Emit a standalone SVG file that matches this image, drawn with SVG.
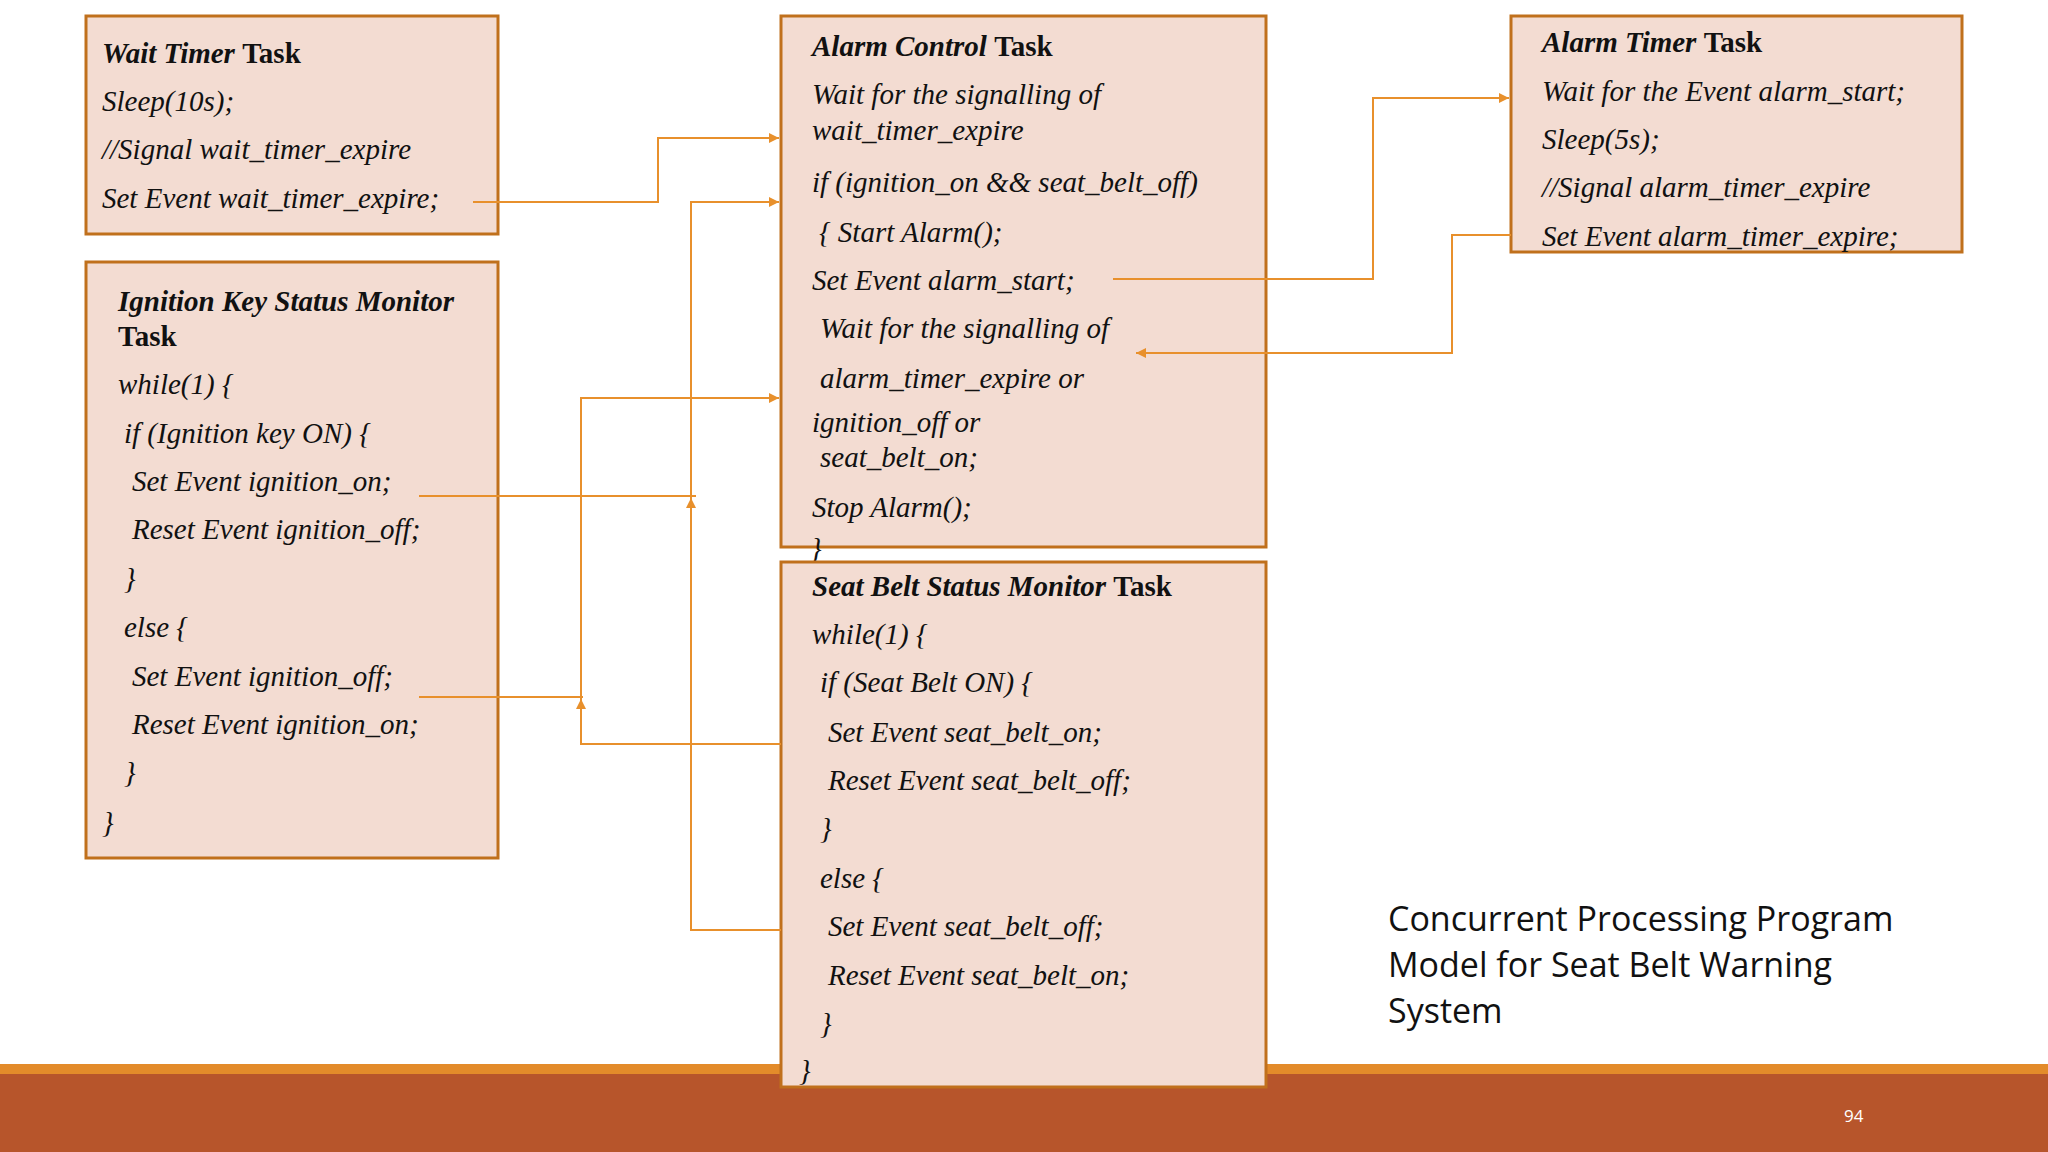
<svg xmlns="http://www.w3.org/2000/svg" width="2048" height="1152" viewBox="0 0 2048 1152">
<defs>
<style>
.box{fill:#F3DCD2;stroke:#C0701C;stroke-width:3}
.t{font-family:"Liberation Serif",serif;font-style:italic;font-size:29px;fill:#111}
.b{font-weight:bold}
.n{font-style:normal}
.c{fill:none;stroke:#E8902C;stroke-width:2}
</style>
<marker id="ah" viewBox="0 0 10 10" refX="10" refY="5" markerWidth="10" markerHeight="10" markerUnits="userSpaceOnUse" orient="auto"><path d="M0,0L10,5L0,10z" fill="#E8902C"/></marker>
</defs>
<rect width="2048" height="1152" fill="#fff"/>
<rect x="0" y="1064" width="2048" height="10" fill="#E38B2A"/>
<rect x="0" y="1074" width="2048" height="78" fill="#B7552B"/>
<text x="1844" y="1122" font-family="Open Sans,sans-serif" font-size="17" fill="#fff">94</text>
<g id="title" font-family="Open Sans,sans-serif" font-size="34" fill="#111">
<text x="1388" y="931">Concurrent Processing Program</text>
<text x="1388" y="977">Model for Seat Belt Warning</text>
<text x="1388" y="1023">System</text>
</g>
<g id="wait-timer">
<rect class="box" x="86" y="16" width="412" height="218"/>
<text class="t" x="102" y="63"><tspan class="b">Wait Timer </tspan><tspan class="b n">Task</tspan></text>
<text class="t" x="102" y="111">Sleep(10s);</text>
<text class="t" x="102" y="159">//Signal wait_timer_expire</text>
<text class="t" x="102" y="208">Set Event wait_timer_expire;</text>
</g>
<g id="ignition">
<rect class="box" x="86" y="262" width="412" height="596"/>
<text class="t b" x="118" y="311">Ignition Key Status Monitor</text>
<text class="t b n" x="118" y="346">Task</text>
<text class="t" x="118" y="394">while(1) {</text>
<text class="t" x="124" y="443">if (Ignition key ON) {</text>
<text class="t" x="132" y="491">Set Event ignition_on;</text>
<text class="t" x="132" y="539">Reset Event ignition_off;</text>
<text class="t" x="124" y="588">}</text>
<text class="t" x="124" y="637">else {</text>
<text class="t" x="132" y="686">Set Event ignition_off;</text>
<text class="t" x="132" y="734">Reset Event ignition_on;</text>
<text class="t" x="124" y="782">}</text>
<text class="t" x="102" y="832">}</text>
</g>
<g id="alarm-control">
<rect class="box" x="781" y="16" width="485" height="531"/>
<text class="t" x="812" y="56"><tspan class="b">Alarm Control </tspan><tspan class="b n">Task</tspan></text>
<text class="t" x="812" y="104">Wait for the signalling of</text>
<text class="t" x="812" y="140">wait_timer_expire</text>
<text class="t" x="812" y="192">if (ignition_on &amp;&amp; seat_belt_off)</text>
<text class="t" x="819" y="242">{ Start Alarm();</text>
<text class="t" x="812" y="290">Set Event alarm_start;</text>
<text class="t" x="820" y="338">Wait for the signalling of</text>
<text class="t" x="820" y="388">alarm_timer_expire or</text>
<text class="t" x="812" y="432">ignition_off or</text>
<text class="t" x="820" y="467">seat_belt_on;</text>
<text class="t" x="812" y="517">Stop Alarm();</text>
<text class="t" x="810" y="558">}</text>
</g>
<g id="seat-belt">
<rect class="box" x="781" y="562" width="485" height="525"/>
<text class="t" x="812" y="596"><tspan class="b">Seat Belt Status Monitor </tspan><tspan class="b n">Task</tspan></text>
<text class="t" x="812" y="644">while(1) {</text>
<text class="t" x="820" y="692">if (Seat Belt ON) {</text>
<text class="t" x="828" y="742">Set Event seat_belt_on;</text>
<text class="t" x="828" y="790">Reset Event seat_belt_off;</text>
<text class="t" x="820" y="838">}</text>
<text class="t" x="820" y="888">else {</text>
<text class="t" x="828" y="936">Set Event seat_belt_off;</text>
<text class="t" x="828" y="985">Reset Event seat_belt_on;</text>
<text class="t" x="820" y="1033">}</text>
<text class="t" x="799" y="1080">}</text>
</g>
<g id="alarm-timer">
<rect class="box" x="1511" y="16" width="451" height="236"/>
<text class="t" x="1542" y="52"><tspan class="b">Alarm Timer </tspan><tspan class="b n">Task</tspan></text>
<text class="t" x="1542" y="101">Wait for the Event alarm_start;</text>
<text class="t" x="1542" y="149">Sleep(5s);</text>
<text class="t" x="1542" y="197">//Signal alarm_timer_expire</text>
<text class="t" x="1542" y="246">Set Event alarm_timer_expire;</text>
</g>
<g id="connectors">
<path class="c" d="M473,202H658V138H779" marker-end="url(#ah)"/>
<path class="c" d="M781,930H691V202H779" marker-end="url(#ah)"/>
<path class="c" d="M419,496H696"/>
<path class="c" d="M691,512V498" marker-end="url(#ah)"/>
<path class="c" d="M781,744H581V398H779" marker-end="url(#ah)"/>
<path class="c" d="M419,697H583"/>
<path class="c" d="M581,713V699" marker-end="url(#ah)"/>
<path class="c" d="M1113,279H1373V98H1509" marker-end="url(#ah)"/>
<path class="c" d="M1511,235H1452V353H1136" marker-end="url(#ah)"/>
</g>
</svg>
